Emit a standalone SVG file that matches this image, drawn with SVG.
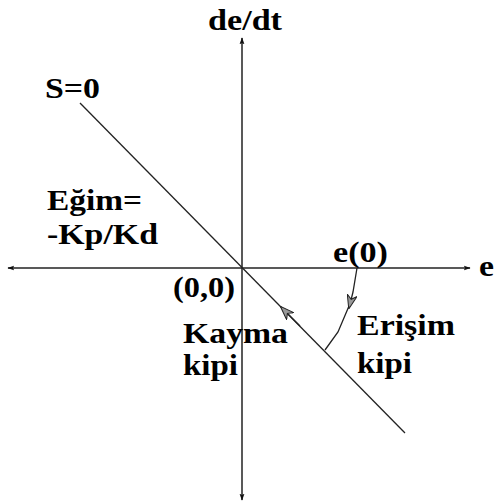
<svg xmlns="http://www.w3.org/2000/svg" width="494" height="504" viewBox="0 0 494 504">
<defs>
<style>
text{font-weight:700;font-size:30px;fill:#000}
.ax{stroke:#222;stroke-width:1.5;fill:none}
.ln{stroke:#222;stroke-width:1.3;fill:none}
</style>
<marker id="ah" viewBox="0 0 10 10" refX="9" refY="5" markerWidth="7" markerHeight="7" orient="auto" markerUnits="userSpaceOnUse">
<path d="M0,1.5 L10,5 L0,8.5 L2,5 Z" fill="#111"/>
</marker>
<marker id="oh" viewBox="0 0 14 10" refX="13" refY="5" markerWidth="14" markerHeight="10" orient="auto" markerUnits="userSpaceOnUse">
<path d="M0,0 L14,5 L0,10 L4,5 Z" fill="#999" stroke="#222" stroke-width="1"/>
</marker>
</defs>
<rect width="494" height="504" fill="#fff"/>
<g id="connectors">
<line class="ax" x1="242" y1="268" x2="242" y2="38" marker-end="url(#ah)"/>
<line class="ax" x1="242" y1="268" x2="242" y2="500" marker-end="url(#ah)"/>
<line class="ax" x1="242" y1="268" x2="8" y2="268" marker-end="url(#ah)"/>
<line class="ax" x1="242" y1="268" x2="470" y2="268" marker-end="url(#ah)"/>
<line class="ln" x1="80" y1="103" x2="405" y2="433"/>
<line class="ln" x1="300" y1="326" x2="281" y2="307" marker-end="url(#oh)"/>
<path class="ln" d="M357,268 L353,292 L349,308" marker-end="url(#oh)"/>
<path class="ln" d="M349,306 L338,332 L325,350"/>
</g>
<g font-family="Liberation Serif, DejaVu Serif, serif">
<g id="label-dedt"><text x="208" y="30" textLength="74" lengthAdjust="spacingAndGlyphs">de/dt</text></g>
<g id="label-s0"><text x="45" y="98" textLength="55" lengthAdjust="spacingAndGlyphs">S=0</text></g>
<g id="label-egim">
<text x="47" y="210" textLength="95" lengthAdjust="spacingAndGlyphs">Eğim=</text>
<text x="47" y="244" textLength="111" lengthAdjust="spacingAndGlyphs">-Kp/Kd</text>
</g>
<g id="label-e0"><text x="333" y="262" textLength="55" lengthAdjust="spacingAndGlyphs">e(0)</text></g>
<g id="label-e"><text x="479" y="276" textLength="15" lengthAdjust="spacingAndGlyphs">e</text></g>
<g id="label-origin"><text x="173" y="297" textLength="62" lengthAdjust="spacingAndGlyphs">(0,0)</text></g>
<g id="label-kayma">
<text x="183" y="343" textLength="105" lengthAdjust="spacingAndGlyphs">Kayma</text>
<text x="183" y="375" textLength="55" lengthAdjust="spacingAndGlyphs">kipi</text>
</g>
<g id="label-erisim">
<text x="357" y="335" textLength="98" lengthAdjust="spacingAndGlyphs">Erişim</text>
<text x="357" y="373" textLength="55" lengthAdjust="spacingAndGlyphs">kipi</text>
</g>
</g>
</svg>
